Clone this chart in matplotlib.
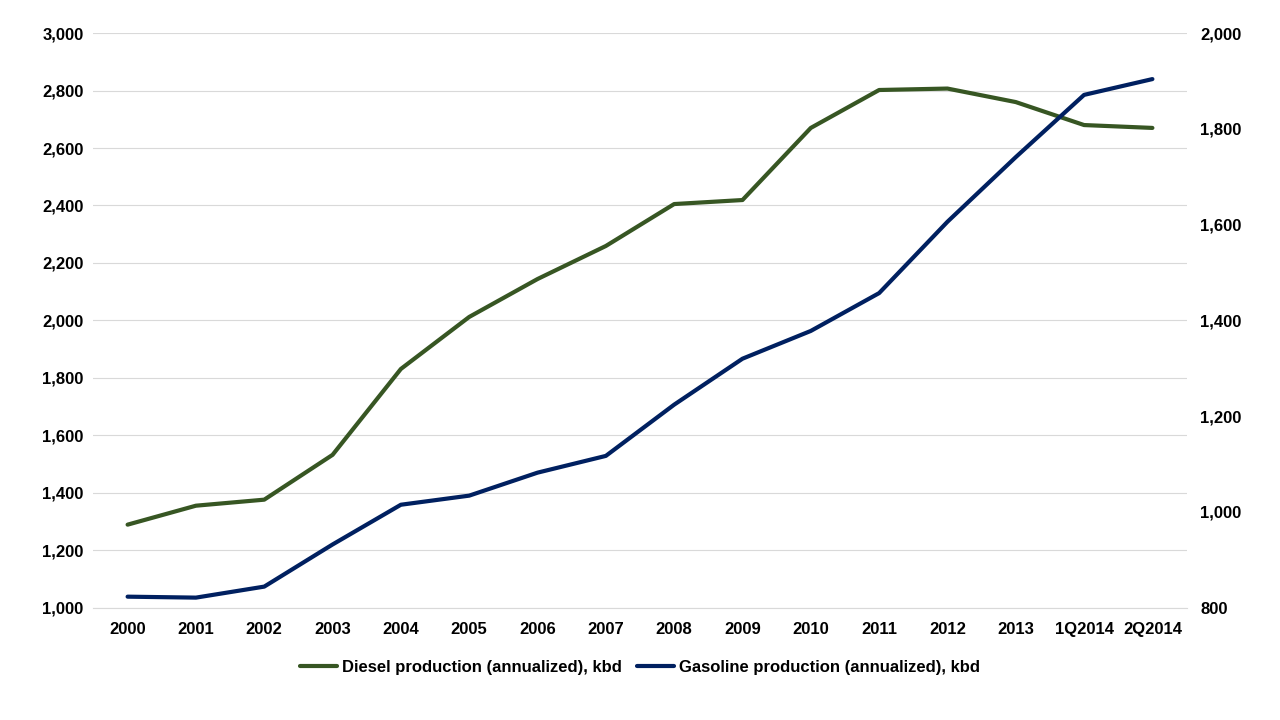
import matplotlib.pyplot as plt
from matplotlib.ticker import FuncFormatter

plt.rcParams['font.family'] = ['Liberation Sans', 'DejaVu Sans']

# categories and series values
lata = ['2000', '2001', '2002', '2003', '2004', '2005', '2006', '2007',
        '2008', '2009', '2010', '2011', '2012', '2013', '1Q2014', '2Q2014']
diesel = [1289, 1355, 1376, 1532, 1831, 2012, 2144, 2259,
          2405, 2419, 2670, 2802, 2807, 2760, 2680, 2670]
benzyna = [823, 821, 844, 932, 1015, 1034, 1082, 1117,
           1224, 1320, 1378, 1457, 1606, 1741, 1871, 1904]

kolor_diesel = '#375623'
kolor_benzyna = '#002060'
fmt = FuncFormatter(lambda v, p: f'{v:,.0f}')

fig = plt.figure(figsize=(12.8, 7.2), dpi=100)
ax = fig.add_axes([0.073, 0.156, 0.854, 0.798])
ax2 = ax.twinx()

x = range(len(lata))
l1, = ax.plot(x, diesel, color=kolor_diesel, lw=3,
              label='Diesel production (annualized), kbd', solid_capstyle='round')
l2, = ax2.plot(x, benzyna, color=kolor_benzyna, lw=3,
               label='Gasoline production (annualized), kbd', solid_capstyle='round')

ax.set_xlim(-0.5, len(lata) - 0.5)
ax.set_ylim(1000, 3000)
ax.set_yticks(range(1000, 3001, 200))
ax2.set_ylim(800, 2000)
ax2.set_yticks(range(800, 2001, 200))
ax.yaxis.set_major_formatter(fmt)
ax2.yaxis.set_major_formatter(fmt)

ax.set_xticks(list(x))
ax.set_xticklabels(lata)
ax.grid(axis='y', color='#d9d9d9', lw=0.8)
ax.set_axisbelow(True)

for a in (ax, ax2):
    for s in a.spines.values():
        s.set_visible(False)
    a.tick_params(length=0, labelsize=12)
    for t in a.get_xticklabels() + a.get_yticklabels():
        t.set_fontweight('bold')
ax.spines['bottom'].set_visible(True)
ax.spines['bottom'].set_color('#d9d9d9')
ax.tick_params(axis='y', pad=7)
ax.tick_params(axis='x', pad=10)
ax2.tick_params(axis='y', pad=10)

fig.legend(handles=[l1, l2], loc='center', bbox_to_anchor=(0.5, 0.073),
           ncol=2, frameon=False, prop={'weight': 'bold', 'size': 12},
           handlelength=2.2, handletextpad=0.3, columnspacing=0.9)

fig.savefig('out.png', dpi=100)
